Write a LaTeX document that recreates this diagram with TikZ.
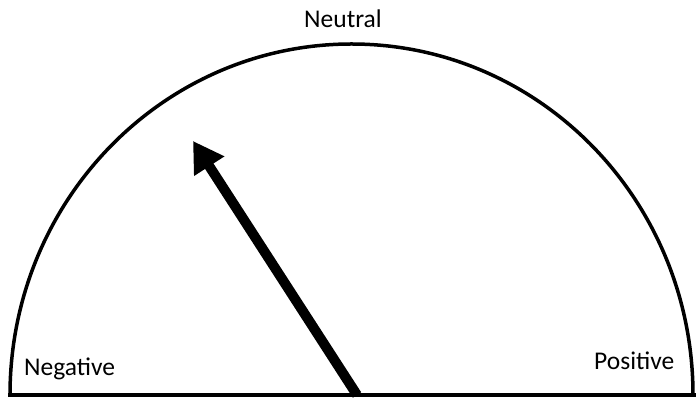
\documentclass[tikz,border=0pt]{standalone}
\usepackage{fontspec}
\setmainfont{Carlito}
\usetikzlibrary{arrows.meta}
\tikzset{
    gauge/.style={line width=3.5pt},
    needle/.style={line width=10pt, -{Triangle[length=30pt, width=34pt]}},
    scalelabel/.style={font=\fontsize{25.5}{29}\selectfont, inner sep=0pt, anchor=base west}
}
\begin{document}
\begin{tikzpicture}[x=1pt, y=1pt]
    \useasboundingbox (0,0) rectangle (696,398);

    % Base line
    \coordinate (left) at (8,3);
    \coordinate (right) at (696,3);
    \draw[gauge] (left) -- (right);

    % Semicircle
    \draw[gauge] (10,3) arc[start angle=180, end angle=0, x radius=341.5, y radius=351];

    % Labels
    \node[scalelabel] (neutral) at (304,370) {Neutral};
    \node[scalelabel] (negative) at (24,22) {Negative};
    \node[scalelabel] (positive) at (594,28) {Positive};

    % Needle
    \coordinate (pivot) at (357,3);
    \coordinate (tip) at (193,257);
    \draw[needle] (pivot) -- (tip);
\end{tikzpicture}
\end{document}
